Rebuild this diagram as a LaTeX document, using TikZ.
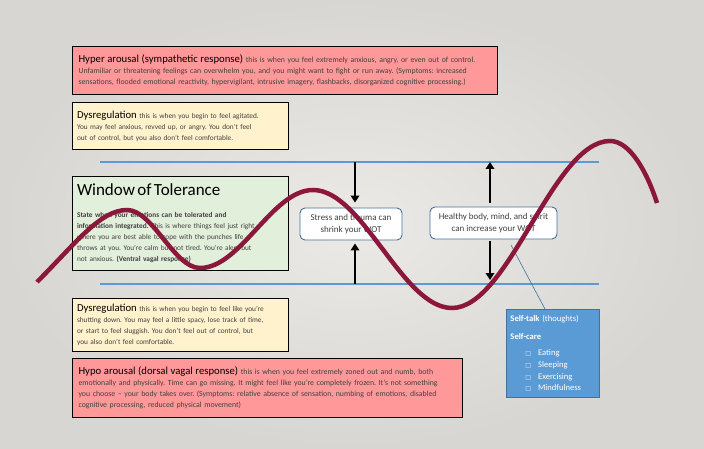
\documentclass[tikz,border=0pt]{standalone}
\usepackage{fontspec}
\setmainfont{Carlito}
\newfontfamily\symfont{DejaVu Sans}
\usetikzlibrary{arrows.meta}
\definecolor{hyperred}{RGB}{255,153,153}
\definecolor{dysyellow}{RGB}{255,242,204}
\definecolor{wotgreen}{RGB}{226,239,218}
\definecolor{lineblue}{RGB}{91,155,213}
\definecolor{edgeblue}{RGB}{65,113,156}
\definecolor{wavered}{RGB}{139,24,58}
\definecolor{bgin}{RGB}{236,234,231}
\definecolor{bgout}{RGB}{216,214,210}
\newcommand{\zonetitle}[1]{{\fontsize{10.7}{11}\selectfont\color{black}#1}}
\newcommand{\tick}{{\symfont\fontsize{6}{6}\selectfont □}}
\frenchspacing

\begin{document}
\begin{tikzpicture}[x=1pt,y=-1pt,
    zonebox/.style={draw=black, line width=1.1pt, anchor=north west, inner xsep=6pt,
        align=left, text=black!75, font=\fontsize{7.8}{11}\selectfont},
    smallzone/.style={zonebox, inner xsep=4.5pt, text width=207pt, font=\fontsize{7.3}{11}\selectfont},
    notebox/.style={draw=edgeblue, line width=0.9pt, fill=white, rounded corners=5pt,
        align=center, text=black!75, font=\fontsize{9}{11.5}\selectfont},
    wotarrow/.style={line width=2.4pt, -{Triangle[length=7pt,width=8.5pt]}}]

    % Background
    \shade[inner color=bgin, outer color=bgout] (0,0) rectangle (704,449);
    \useasboundingbox (0,0) rectangle (704,449);

    % Limits of the window
    \draw[lineblue, line width=1.6pt] (100,162) -- (599,162);
    \draw[lineblue, line width=1.6pt] (100,284) -- (599,284);

    % Zones
    \node[zonebox, fill=hyperred, text width=413pt, minimum height=48pt] (hyper) at (72,46)
        {\zonetitle{Hyper arousal (sympathetic response)} this is when you feel extremely anxious, angry, or even out of control.\\
         Unfamiliar or threatening feelings can overwhelm you, and you might want to fight or run away. (Symptoms: increased\\
         sensations, flooded emotional reactivity, hypervigilant, intrusive imagery, flashbacks, disorganized cognitive processing.)};
    \node[smallzone, fill=dysyellow, minimum height=47pt] (dysup) at (72,102)
        {\zonetitle{Dysregulation} this is when you begin to feel agitated.\\
         You may feel anxious, revved up, or angry. You don’t feel\\
         out of control, but you also don’t feel comfortable.};
    \node[smallzone, fill=wotgreen, minimum height=94pt] (wot) at (72,176)
        {{\fontsize{17}{18}\selectfont\color{black}Window of Tolerance}\\[11pt]
         \textbf{State when your emotions can be tolerated and}\\
         \textbf{information integrated.} This is where things feel just right,\\
         where you are best able to cope with the punches life\\
         throws at you. You’re calm but not tired. You’re alert but\\
         not anxious. \textbf{(Ventral vagal response)}};
    \node[smallzone, fill=dysyellow, minimum height=53pt] (dysdown) at (72,298)
        {\zonetitle{Dysregulation} this is when you begin to feel like you’re\\
         shutting down. You may feel a little spacy, lose track of time,\\
         or start to feel sluggish. You don’t feel out of control, but\\
         you also don’t feel comfortable.};
    \node[zonebox, fill=hyperred, text width=378pt, minimum height=59pt] (hypo) at (72,358)
        {\zonetitle{Hypo arousal (dorsal vagal response)} this is when you feel extremely zoned out and numb, both\\
         emotionally and physically. Time can go missing. It might feel like you’re completely frozen. It’s not something\\
         you choose – your body takes over. (Symptoms: relative absence of sensation, numbing of emotions, disabled\\
         cognitive processing, reduced physical movement)};

    % Notes in the window
    \node[notebox, minimum width=102pt, minimum height=32pt] (stress) at (351,224)
        {Stress and trauma can\\shrink your WOT};
    \node[notebox, minimum width=127pt, minimum height=32pt] (healthy) at (493.5,223)
        {Healthy body, mind, and spirit\\can increase your WOT};

    % Shrink and grow arrows
    \coordinate (shrinktop) at (355,162);
    \coordinate (shrinkbot) at (355,284);
    \coordinate (growtop) at (490,162);
    \coordinate (growbot) at (490,284);
    \draw[wotarrow, shorten >=5pt] (shrinktop) -- (shrinktop |- stress.north);
    \draw[wotarrow, shorten >=3pt] (shrinkbot) -- (shrinkbot |- stress.south);
    \draw[wotarrow, shorten <=4pt] (growtop |- healthy.north) -- (growtop);
    \draw[wotarrow, shorten <=2pt, shorten >=4pt] (growbot |- healthy.south) -- (growbot);

    % Self-care callout
    \node[draw=edgeblue, fill=lineblue, line width=0.9pt, anchor=north west, minimum width=93pt,
          minimum height=88pt, text width=85pt, inner xsep=4pt, align=left, text=white,
          font=\fontsize{8.6}{11.7}\selectfont] (selfcare) at (506,309)
        {\textbf{Self-talk} (thoughts)\\[6pt]
         \textbf{Self-care}\\[5pt]
         \hspace*{15pt}\tick\hspace{7pt}Eating\\
         \hspace*{15pt}\tick\hspace{7pt}Sleeping\\
         \hspace*{15pt}\tick\hspace{7pt}Exercising\\
         \hspace*{15pt}\tick\hspace{7pt}Mindfulness};
    \coordinate (calltip) at (511,245);
    \draw[edgeblue, line width=0.6pt] (calltip) -- ([xshift=-8pt]selfcare.north);

    % Arousal wave
    \draw[wavered, line width=4.5pt] (37,282) .. controls (75,244) and (100,210) .. (127,210)
        .. controls (153,210) and (174,268) .. (200,268)
        .. controls (241,268) and (272,190) .. (313,190)
        .. controls (363,190) and (402,308) .. (452,308)
        .. controls (509,308) and (553,141) .. (610,141)
        .. controls (630,141) and (647,172) .. (657,203);
\end{tikzpicture}
\end{document}
